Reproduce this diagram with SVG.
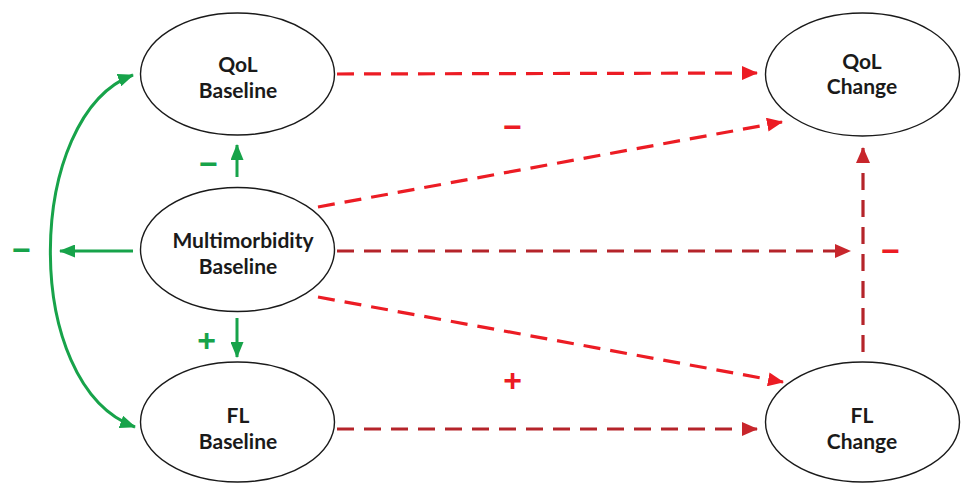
<svg xmlns="http://www.w3.org/2000/svg" width="961" height="483" viewBox="0 0 961 483">
<style>
.node ellipse{fill:#fff;stroke:#1a1a1a;stroke-width:1.4}
.node text{font-family:Lato,"Open Sans","Liberation Sans",sans-serif;font-weight:bold;font-size:21px;fill:#1a1a1a;text-anchor:middle}
.g{stroke:#17a34a;stroke-width:3;fill:none}
.r{stroke:#ec1c24;stroke-width:3.2;fill:none;stroke-dasharray:17 10}
.dr{stroke:#b5242a;stroke-width:3.2;fill:none;stroke-dasharray:17 10}
.lab{font-family:"Liberation Sans",Arial,sans-serif;font-weight:bold;font-size:32px;text-anchor:middle}
.lg{fill:#17a34a}
.lr{fill:#ec1c24}
</style>
<defs>
<marker id="ag" markerWidth="16" markerHeight="13" refX="15" refY="6.5" orient="auto-start-reverse" markerUnits="userSpaceOnUse"><path d="M0,0 L16,6.5 L0,13 Z" fill="#17a34a"/></marker>
<marker id="ar" markerWidth="16" markerHeight="14" refX="15" refY="7" orient="auto" markerUnits="userSpaceOnUse"><path d="M0,0 L16,7 L0,14 Z" fill="#ec1c24"/></marker>
<marker id="adr" markerWidth="16" markerHeight="14" refX="15" refY="7" orient="auto" markerUnits="userSpaceOnUse"><path d="M0,0 L16,7 L0,14 Z" fill="#c8262c"/></marker>
</defs>
<g id="connectors">
<path class="g" d="M133,75 C25,115 20,385 135,427" marker-start="url(#ag)" marker-end="url(#ag)"/>
<path class="g" d="M133,251 L60,251" marker-end="url(#ag)"/>
<path class="g" d="M237,177 L237,145" marker-end="url(#ag)"/>
<path class="g" d="M237,318 L237,357" marker-end="url(#ag)"/>
<path class="r" d="M337,74 L757,73" marker-end="url(#ar)"/>
<path class="r" d="M318,207 L782,122" marker-end="url(#ar)"/>
<path class="dr" d="M337,251 L850,251" marker-end="url(#adr)"/>
<path class="r" d="M318,297 L783,382" marker-end="url(#ar)"/>
<path class="dr" d="M337,429 L757,429" marker-end="url(#adr)"/>
<path class="dr" d="M863,352 L863,148" marker-end="url(#adr)"/>
<text class="lab lg" x="21.5" y="261">−</text>
<text class="lab lg" x="208.5" y="175">−</text>
<text class="lab lg" x="206.5" y="351">+</text>
<text class="lab lr" x="512.5" y="138">−</text>
<text class="lab lr" x="890.5" y="262">−</text>
<text class="lab lr" x="512.5" y="391">+</text>
</g>
<g id="qol-baseline" class="node"><ellipse cx="237.5" cy="74" rx="97" ry="61"/><text x="238" y="72">QoL</text><text x="238" y="98">Baseline</text></g>
<g id="multimorbidity-baseline" class="node"><ellipse cx="237.5" cy="249.5" rx="97" ry="62"/><text x="243" y="248">Multimorbidity</text><text x="238" y="274">Baseline</text></g>
<g id="fl-baseline" class="node"><ellipse cx="237.5" cy="422" rx="97" ry="60"/><text x="238" y="423">FL</text><text x="238" y="449">Baseline</text></g>
<g id="qol-change" class="node"><ellipse cx="862.5" cy="74.5" rx="97" ry="61.5"/><text x="862" y="69">QoL</text><text x="862" y="94">Change</text></g>
<g id="fl-change" class="node"><ellipse cx="862.5" cy="422" rx="97" ry="60"/><text x="862" y="423">FL</text><text x="862" y="449">Change</text></g>
</svg>
